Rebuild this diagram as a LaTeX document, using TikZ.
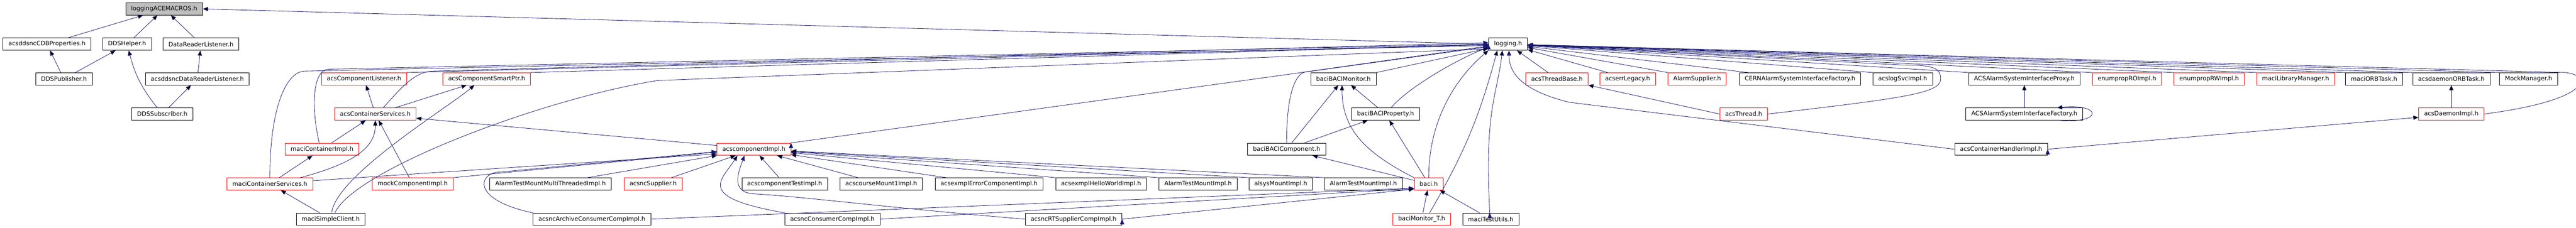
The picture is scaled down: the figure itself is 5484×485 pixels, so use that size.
\documentclass[tikz,border=0pt]{standalone}
\usepackage{fontspec}
\newfontfamily\graphfont{DejaVu Sans}
\usetikzlibrary{arrows.meta, positioning}

\definecolor{edgeblue}{HTML}{191970}
\definecolor{rootgray}{HTML}{BFBFBF}

\tikzset{
  hdr/.style = {draw=black, line width=0.9pt, fill=white, rectangle,
    minimum height=26pt, inner xsep=11.5pt, inner ysep=0pt,
    font=\graphfont\fontsize{12.8pt}{15pt}\selectfont},
  hdrtrunc/.style = {hdr, draw=red},
  hdrroot/.style = {hdr, fill=rootgray},
  inc/.style = {draw=edgeblue, line width=0.9pt, -{Triangle[length=11pt, width=9pt]}}
}

\begin{document}
\begin{tikzpicture} [x=1pt, y=1pt, node distance=75pt, on grid]
\useasboundingbox (0,0) rectangle (5484,-485);

% row 0
\node (acem) [hdrroot] at (349.5,-19) {loggingACEMACROS.h};

% row 1
\node (cdb) [hdr] at (100,-94) {acsddsncCDBProperties.h};
\node (ddshelp) [hdr, right=170.5pt of cdb] {DDSHelper.h};
\node (drl) [hdr, right=157.5pt of ddshelp] {DataReaderListener.h};
\node (logging) [hdr] at (3210.5,-94) {logging.h};

% row 2
\node (pub) [hdr] at (136,-168) {DDSPublisher.h};
\node (drlsn) [hdr, right=284pt of pub] {acsddsncDataReaderListener.h};
\node (complsn) [hdrtrunc, right=355pt of drlsn] {acsComponentListener.h};
\node (smartptr) [hdrtrunc, right=261pt of complsn] {acsComponentSmartPtr.h};
\node (bacimon) [hdr] at (2860,-168) {baciBACIMonitor.h};
\node (thrbase) [hdrtrunc, right=454.5pt of bacimon] {acsThreadBase.h};
\node (errleg) [hdrtrunc, right=150.5pt of thrbase] {acserrLegacy.h};
\node (alarmsup) [hdrtrunc, right=148pt of errleg] {AlarmSupplier.h};
\node (cernfac) [hdr, right=219pt of alarmsup] {CERNAlarmSystemInterfaceFactory.h};
\node (logsvc) [hdr, right=218.5pt of cernfac] {acslogSvcImpl.h};
\node (asproxy) [hdr, right=259pt of logsvc] {ACSAlarmSystemInterfaceProxy.h};
\node (enumro) [hdrtrunc, right=218.5pt of asproxy] {enumpropROImpl.h};
\node (enumrw) [hdrtrunc, right=175pt of enumro] {enumpropRWImpl.h};
\node (libmgr) [hdrtrunc, right=184pt of enumrw] {maciLibraryManager.h};
\node (orbtask) [hdr, right=167pt of libmgr] {maciORBTask.h};
\node (dorbtask) [hdr, right=164.5pt of orbtask] {acsdaemonORBTask.h};
\node (mockmgr) [hdr, right=164.5pt of dorbtask] {MockManager.h};

% row 3
\node (ddssub) [hdr] at (345.5,-243) {DDSSubscriber.h};
\node (contsvc) [hdrtrunc] at (799,-243) {acsContainerServices.h};
\node (baciprop) [hdr] at (2949.5,-243) {baciBACIProperty.h};
\node (thread) [hdrtrunc] at (3712,-243) {acsThread.h};
\node (asfactory) [hdr, below=of asproxy] {ACSAlarmSystemInterfaceFactory.h};
\node (daemonimpl) [hdrtrunc, below=of dorbtask] {acsDaemonImpl.h};

% row 4
\node (contimpl) [hdrtrunc] at (685.5,-318) {maciContainerImpl.h};
\node (compimpl) [hdrtrunc] at (1605,-318) {acscomponentImpl.h};
\node (bacicomp) [hdr] at (2739,-318) {baciBACIComponent.h};
\node (conthandler) [hdr] at (4260,-318) {acsContainerHandlerImpl.h};

% row 5
\node (mcs) [hdrtrunc] at (574.5,-392) {maciContainerServices.h};
\node (mockcomp) [hdrtrunc, right=304pt of mcs] {mockComponentImpl.h};
\node (atmmt) [hdr, right=293.5pt of mockcomp] {AlarmTestMountMultiThreadedImpl.h};
\node (ncsupp) [hdrtrunc, right=218.5pt of atmmt] {acsncSupplier.h};
\node (comptest) [hdr, right=280pt of ncsupp] {acscomponentTestImpl.h};
\node (course) [hdr, right=205.5pt of comptest] {acscourseMount1Impl.h};
\node (errcomp) [hdr, right=229.5pt of course] {acsexmplErrorComponentImpl.h};
\node (hello) [hdr, right=238.5pt of errcomp] {acsexmplHelloWorldImpl.h};
\node (atm1) [hdr, right=206.5pt of hello] {AlarmTestMountImpl.h};
\node (alsys) [hdr, right=176pt of atm1] {alsysMountImpl.h};
\node (atm2) [hdr, right=176pt of alsys] {AlarmTestMountImpl.h};
\node (baci) [hdrtrunc, right=139pt of atm2] {baci.h};

% row 6
\node (simple) [hdr] at (704,-467) {maciSimpleClient.h};
\node (archcons) [hdr, right=556pt of simple] {acsncArchiveConsumerCompImpl.h};
\node (nccons) [hdr, right=512pt of archcons] {acsncConsumerCompImpl.h};
\node (rtsupp) [hdr, right=513.5pt of nccons] {acsncRTSupplierCompImpl.h};
\node (monT) [hdrtrunc] at (3026.5,-467) {baciMonitor\_T.h};
\node (testutils) [hdr, right=147pt of monT] {maciTestUtils.h};

% dds part
\path [inc]
  (logging.west) edge (acem.east)
  (cdb) edge (acem)
  (ddshelp) edge (acem)
  (drl) edge (acem)
  (pub) edge (cdb)
  (pub) edge (ddshelp)
  (ddssub) edge [bend left=12] (ddshelp)
  (ddssub) edge (drlsn)
  (drlsn) edge (drl);

% container part
\path [inc]
  (contsvc) edge (complsn)
  (contsvc) edge (smartptr)
  (complsn.north east) edge (logging)
  (smartptr.north east) edge (logging)
  (contimpl) edge (contsvc)
  (mcs) edge (contimpl)
  ([xshift=65pt]mcs.north) edge [out=15, in=-90, out distance=114pt, in distance=60pt] (contsvc.south)
  ([yshift=7pt]mcs.east) edge ([yshift=-10pt]compimpl.west)
  (mockcomp) edge (contsvc)
  (mockcomp.north east) edge ([yshift=-6pt]compimpl.west)
  (simple) edge (mcs)
  ([xshift=2pt]simple.north) edge [out=83, in=220, out distance=80pt, in distance=78pt] ([xshift=-26pt]smartptr.south)
  ([yshift=8pt]compimpl.west) edge ([yshift=-9pt]contsvc.east)
  (compimpl.north east) edge (logging);

\draw [inc] ([xshift=17pt]contsvc.north) .. controls +(40pt,45pt) and +(-40pt,0pt) .. ([shift={(125pt,78pt)}]contsvc.north) -- ([yshift=3pt]logging.west);
\draw [inc] ([xshift=-6pt]contimpl.north) .. controls +(-20pt,90pt) and +(-30pt,0pt) .. ([shift={(14pt,157pt)}]contimpl.north) -- (logging.west);
\draw [inc] (mcs.north) .. controls +(0pt,150pt) and +(-40pt,0pt) .. ([shift={(75pt,227pt)}]mcs.north) -- ([yshift=-3pt]logging.west);
\draw [inc] ([xshift=9pt]simple.north) .. controls +(40pt,90pt) and +(-250pt,-40pt) .. ([shift={(696pt,282pt)}]simple.north) -- ([yshift=-10pt]logging.west);

% component part
\path [inc]
  (atmmt) edge (compimpl)
  (ncsupp) edge (compimpl)
  (nccons.north west) edge [out=170, in=237, out distance=193pt, in distance=65pt] ([xshift=-35pt]compimpl.south)
  (comptest) edge (compimpl)
  (course) edge (compimpl)
  (errcomp) edge (compimpl)
  (hello.north west) edge (compimpl)
  (atm1.north west) edge (compimpl)
  (alsys.north west) edge (compimpl)
  (atm2.north west) edge (compimpl)
  (archcons.east) edge ([yshift=-9pt]baci.west)
  (nccons.east) edge ([yshift=-10pt]baci.west)
  (rtsupp.east) edge ([yshift=-11pt]baci.west);

\draw [inc] (archcons.north west) .. controls +(-120pt,25pt) and +(-40pt,-10pt) .. ([shift={(-80pt,86pt)}]archcons.north west) -- ([yshift=-5pt]compimpl.west);
\draw [inc] (rtsupp.west) .. controls +(-300pt,25pt) and +(100pt,-5pt) .. ([shift={(-580pt,54pt)}]rtsupp.west)
  .. controls +(-45pt,5pt) and +(-15pt,-40pt) .. ([xshift=-20pt]compimpl.south);

% baci part
\path [inc]
  (bacicomp) edge (bacimon)
  (bacicomp) edge (baciprop)
  (baciprop) edge (bacimon)
  ([xshift=12pt]baciprop.north) edge [out=50, in=200, out distance=60pt, in distance=60pt] ([yshift=-7pt]logging.west)
  (bacimon.north east) edge (logging)
  (baci) edge (bacicomp)
  (baci.north west) edge [out=153, in=-90, out distance=123pt, in distance=90pt] ([xshift=-3pt]bacimon.south)
  (baci) edge (baciprop)
  (baci.north) edge [out=90, in=220, out distance=150pt, in distance=55pt] (logging.south west)
  (monT) edge (baci)
  ([xshift=17pt]monT.north) edge [out=60, in=255, out distance=139pt, in distance=155pt] ([xshift=-23pt]logging.south)
  (testutils) edge (baci)
  ([xshift=-2pt]testutils.north) edge [out=93, in=263, out distance=220pt, in distance=100pt] ([xshift=-12pt]logging.south);

\draw [inc] (bacicomp.north) .. controls +(0pt,110pt) and +(-25pt,0pt) .. ([shift={(45pt,152pt)}]bacicomp.north) -- ([yshift=-4pt]logging.west);

% right part
\path [inc]
  (thrbase) edge (logging)
  (thread.west) edge (thrbase.south east)
  ([xshift=17pt]errleg.north west) edge (logging)
  (alarmsup.north west) edge (logging)
  ([xshift=19pt]cernfac.north west) edge (logging)
  (logsvc.north west) edge (logging)
  (asproxy.north west) edge (logging)
  (enumro.north west) edge (logging)
  (enumrw.north west) edge (logging)
  (libmgr.north west) edge (logging)
  (orbtask.north west) edge (logging)
  (dorbtask.north west) edge (logging)
  (mockmgr.north west) edge (logging)
  (asfactory) edge (asproxy)
  ([xshift=-50pt]asfactory.south east) edge [out=-5, in=5, out distance=90pt, in distance=100pt] ([xshift=-55pt]asfactory.north east)
  (daemonimpl) edge (dorbtask)
  (conthandler.east) edge ([yshift=-7pt]daemonimpl.west);

\draw [inc] (conthandler.west) -- ([shift={(-820pt,100pt)}]conthandler.west) .. controls +(-80pt,20pt) and +(0pt,-60pt) .. ([xshift=2pt]logging.south);
\draw [inc] (thread.east) .. controls +(300pt,35pt) and +(0pt,-30pt) .. ([xshift=17pt]logsvc.east)
  .. controls +(0pt,25pt) and +(60pt,0pt) .. ([yshift=16pt]logsvc.north) -- (logging);
\draw [inc] (daemonimpl.east) .. controls +(230pt,30pt) and +(60pt,-5pt) .. ([xshift=15pt]mockmgr.north east) -- (logging);
\end{tikzpicture}
\end{document}
